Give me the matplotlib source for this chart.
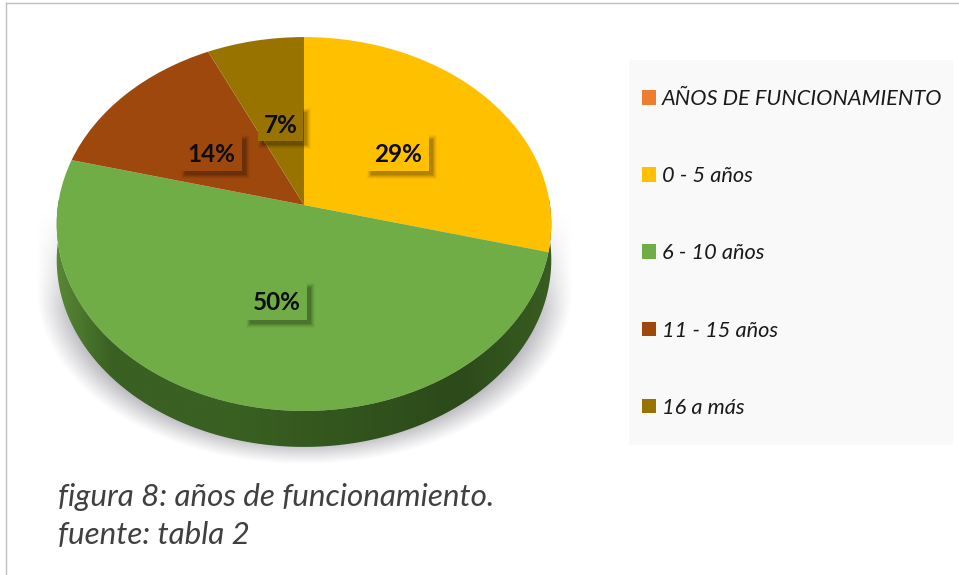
import numpy as np
import matplotlib
matplotlib.use("Agg")
import matplotlib.pyplot as plt
from matplotlib.patches import Patch, Rectangle, Polygon
from matplotlib.transforms import Transform

categories = ["0 - 5 años", "6 - 10 años", "11 - 15 años", "16 a más"]
values = [29, 50, 14, 7]
colors = ["#FFC000", "#70AD47", "#9E480E", "#997300"]
legend_title = "AÑOS DE FUNCIONAMIENTO"
legend_title_color = "#ED7D31"
caption = ["figura 8: años de funcionamiento.", "fuente: tabla 2"]

W, H = 959, 575
CX, CY, RX, RY, K, DEPTH = 304.0, 205.0, 246.0, 185.0, 0.1016, 36.0


class Tilt(Transform):
    """Unit pie disc -> tilted disc in pixel coordinates."""
    input_dims = output_dims = 2
    is_separable = False
    has_inverse = False

    def transform_non_affine(self, xy):
        xy = np.asarray(xy, float)
        s = 1.0 / (1.0 + K * xy[:, 1])
        return np.column_stack([CX + RX * xy[:, 0] * s, CY - RY * xy[:, 1] * s])


plt.rcParams["font.family"] = ["Lato", "DejaVu Sans"]
fig = plt.figure(figsize=(W / 100, H / 100), dpi=100, facecolor="white")
ax = fig.add_axes([0, 0, 1, 1])

# soft shadow under the disc
yy, xx = np.mgrid[0:H, 0:W]
ys = np.maximum(yy, 290.0)
d = np.hypot((xx - CX) / 268.0, (ys - 290.0) / 174.0)
edge = np.clip((1.0 - d) / 0.14, 0, 1) ** 1.1
ramp = np.clip((yy - 210.0) / 100.0, 0, 1)
shadow = np.zeros((H, W, 4))
shadow[..., :3] = np.array([178, 178, 184]) / 255
shadow[..., 3] = edge * ramp
ax.imshow(shadow, extent=(0, W, H, 0), zorder=1, interpolation="bilinear")

# side wall
tilt = Tilt()
t = np.linspace(np.pi - 0.3, 2 * np.pi + 0.3, 240)
rim = tilt.transform(np.column_stack([np.cos(t), np.sin(t)]))
wall_xy = np.vstack([rim, (rim + [0, DEPTH])[::-1]])
wall = Polygon(wall_xy, closed=True, facecolor="none", edgecolor="none", zorder=2)
ax.add_patch(wall)
gx = np.linspace(0, 1, 256)
c0 = np.array([0x5C, 0x8C, 0x38]) / 255
c1 = np.array([0x3A, 0x60, 0x22]) / 255
c2 = np.array([0x2C, 0x4A, 0x1A]) / 255
c3 = np.array([0x3A, 0x5E, 0x22]) / 255
grad = np.zeros((1, 256, 3))
for i in range(3):
    grad[0, :, i] = np.interp(gx, [0, 0.12, 0.35, 0.8, 1], [c0[i], c1[i], c1[i], c2[i], c3[i]])
im = ax.imshow(grad, extent=(50, 560, 480, 200), zorder=2, aspect="auto")
im.set_clip_path(wall)

# top disc
wedges, _ = ax.pie(values, colors=colors, startangle=90, counterclock=False,
                   wedgeprops={"linewidth": 0})
for w in wedges:
    w.set_transform(tilt + ax.transData)
    w.set_clip_on(False)
    w.set_zorder(3)

ax.set_aspect("auto")
ax.set_xlim(0, W)
ax.set_ylim(H, 0)
ax.axis("off")

# data labels
boxes = [(367, 135, 62, 36), (246, 283, 61, 37), (181, 135, 61, 36), (258, 108, 45, 33)]
for (x, y, bw, bh), v, c in zip(boxes, values, colors):
    for g, a in ((8, 0.03), (6, 0.05), (4, 0.07), (2, 0.09), (0, 0.11)):
        ax.add_patch(Rectangle((x + 4 - g / 2, y + 4 - g / 2), bw + g, bh + g,
                               facecolor="black", alpha=a, edgecolor="none", zorder=4))
    ax.add_patch(Rectangle((x, y), bw, bh, facecolor=c, edgecolor="none", zorder=5))
    ax.text(x + bw / 2, y + bh / 2 + 1, f"{v}%", ha="center", va="center", fontsize=17.5,
            fontweight="bold", color="#0d0d0d", zorder=6)

# legend
ax.add_patch(Rectangle((629, 60), 324, 385, facecolor="#F9F9F9", edgecolor="none", zorder=1))
handles = [Patch(facecolor=legend_title_color, edgecolor="none", label=legend_title)]
handles += [Patch(facecolor=c, edgecolor="none", label=n) for c, n in zip(colors, categories)]
fs = 15.7
leg = ax.legend(handles=handles, loc="upper left", bbox_to_anchor=(642 / W, 1 - 89 / H),
                bbox_transform=fig.transFigure, frameon=False, prop={"style": "italic", "size": fs},
                labelspacing=(77 * 0.72 - fs * 1.0 + 1.44) / fs, handlelength=10.1 / fs, handleheight=10.1 / fs,
                handletextpad=4 / fs, borderaxespad=0, borderpad=0)
for txt in leg.get_texts():
    txt.set_color("#1a1a1a")

# caption
for (yp, s) in zip((497, 535), caption):
    ax.text(58, yp, s, style="italic", fontsize=22.6, color="#404040", ha="left", va="center", zorder=6)

# outer frame
ax.plot([6, 6], [H, 3], color="#BFBFBF", lw=1, zorder=6, clip_on=False)
ax.plot([6, W], [3, 3], color="#BFBFBF", lw=1, zorder=6, clip_on=False)

fig.savefig("out.png", dpi=100, facecolor="white")
